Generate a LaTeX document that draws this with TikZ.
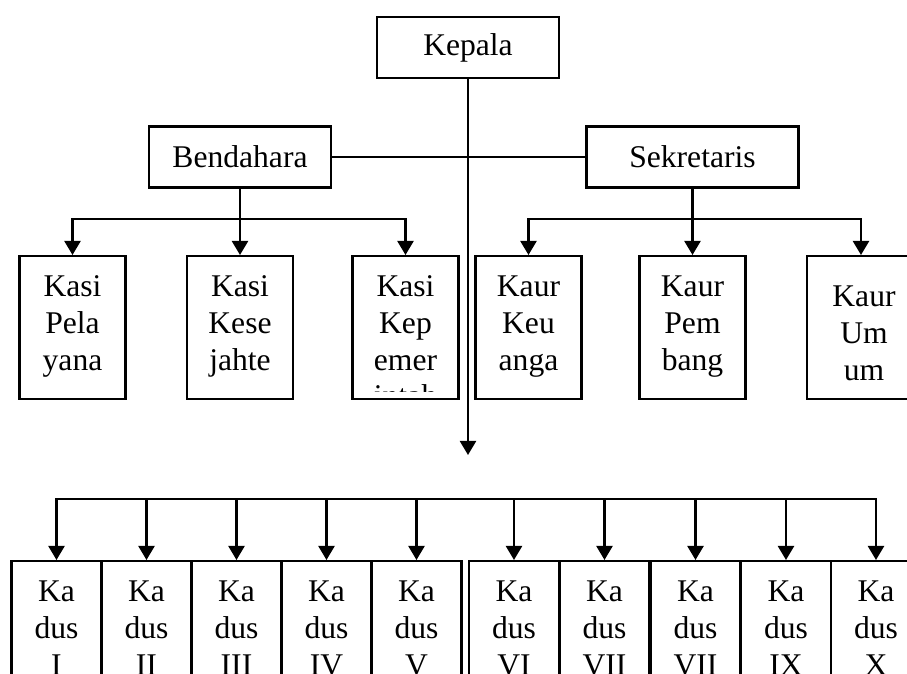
\documentclass[tikz,border=0pt]{standalone}
\usepackage{fontspec}
\setmainfont{Liberation Serif}
\usetikzlibrary{arrows.meta}

\begin{document}
\begin{tikzpicture}[x=0.5pt, y=-0.5pt, line width=1.1pt,
  font=\fontsize{15.8pt}{18.5pt}\selectfont,
  atas/.style={draw, inner sep=0pt, minimum height=30.5pt},
  seksi/.style={draw, inner sep=0pt, anchor=north, text width=53pt, align=center, text height=20pt, text depth=51.5pt},
  dusun/.style={draw, inner sep=0pt, anchor=north, text width=45pt, align=center, text height=20pt, text depth=50pt},
  panah/.style={-{Triangle[length=7pt, width=8pt]}}]
\useasboundingbox (0,0) rectangle (907,674);

\node[atas, minimum width=91pt] (kepala) at (468,47.5) {Kepala};
\node[atas, minimum width=91pt] (bendahara) at (240,157) {Bendahara};
\node[atas, minimum width=106pt] (sekretaris) at (692.5,157) {Sekretaris};

\node[seksi] (pela) at (72.5,255) {Kasi\\Pela\\yana};
\node[seksi] (kese) at (240,255) {Kasi\\Kese\\jahte};
\node[seksi] (kep) at (405.5,255) {Kasi\\Kep\\emer};
\node[seksi] (keu) at (528.5,255) {Kaur\\Keu\\anga};
\node[seksi] (pem) at (692.5,255) {Kaur\\Pem\\bang};
\node[seksi, text width=57pt, text height=25pt, text depth=46.5pt] (um) at (864,255) {Kaur\\Um\\um};
\begin{scope}
  \clip (kep.north west) rectangle ([yshift=4.5pt]kep.south east);
  \node[anchor=base] (kepsisa) at (405.5,407) {intah};
\end{scope}

\foreach \x/\n/\r in {56.5/1/I, 146.5/2/II, 236.5/3/III, 326.5/4/IV, 416.5/5/V,
  514/6/VI, 604.5/7/VII, 695.5/8/VII, 786/9/IX, 876/10/X}
  \node[dusun] (kd\n) at (\x,560) {Ka\\dus\\\r};

\coordinate (kasibus) at (0,219);
\coordinate (dusunbus) at (0,499);
\coordinate (dusunpanah) at (468,455);

\draw (bendahara.east) -- (bendahara.east -| sekretaris.west);
\draw[panah] (kepala) -- (dusunpanah);

\draw[panah] (bendahara) -- (kese);
\draw[panah] (bendahara.south |- kasibus) -| (pela.north);
\draw[panah] (bendahara.south |- kasibus) -| (kep.north);
\draw[panah] (sekretaris) -- (pem);
\draw[panah] (sekretaris.south |- kasibus) -| (keu.north);
\draw[panah] (sekretaris.south |- kasibus) -| ([xshift=-1.5pt]um.north);

\draw[panah] (kd5.north |- dusunbus) -| (kd1.north);
\draw[panah] (kd5.north |- dusunbus) -| (kd10.north);
\foreach \n in {2,...,9}
  \draw[panah] (kd\n.north |- dusunbus) -- (kd\n.north);
\end{tikzpicture}
\end{document}
